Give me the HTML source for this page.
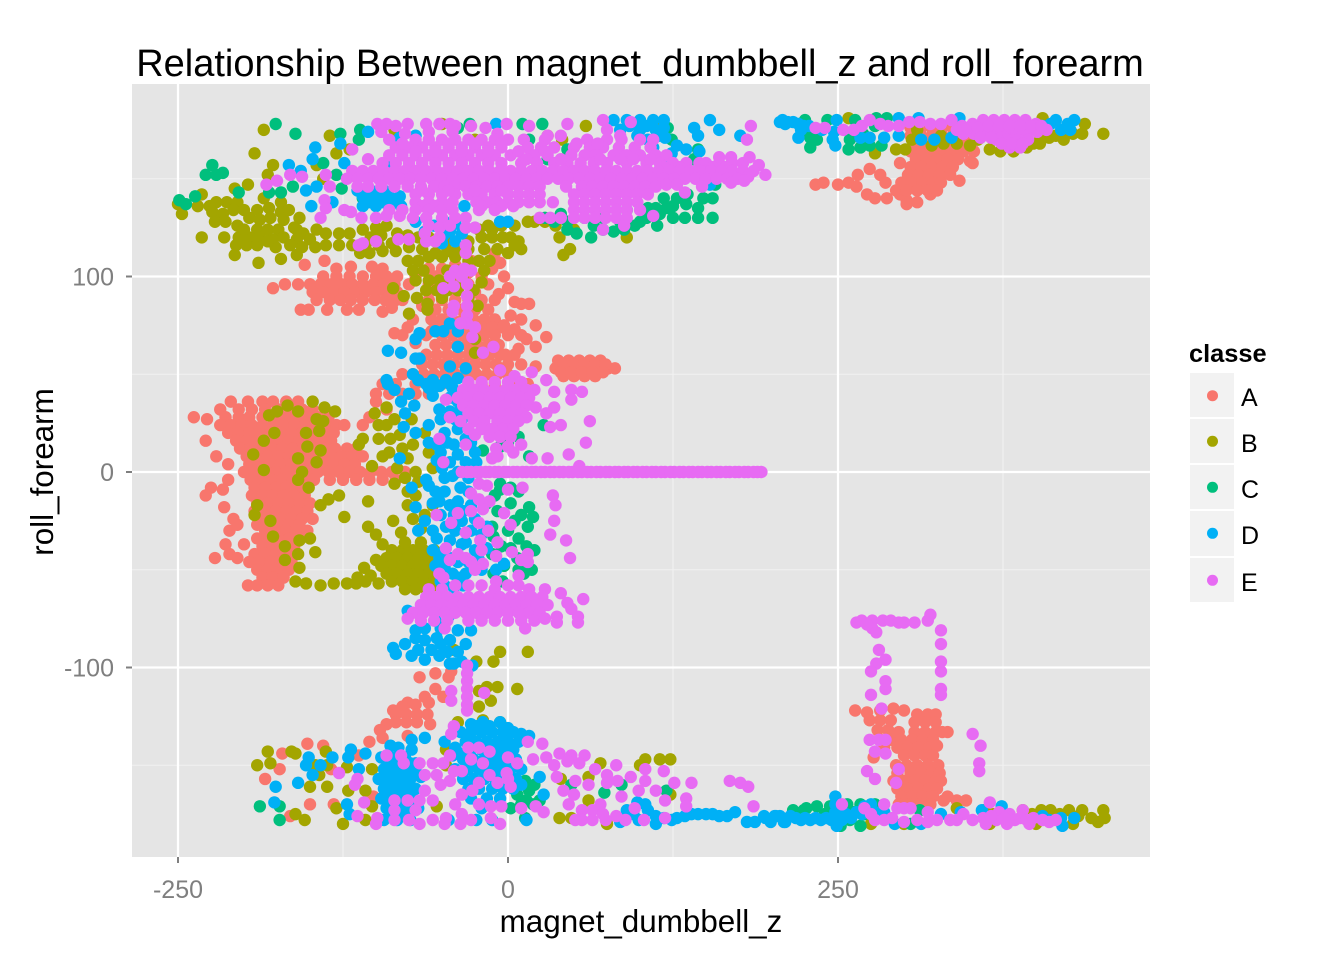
<!DOCTYPE html>
<html>
<head>
<meta charset="utf-8">
<title>Relationship Between magnet_dumbbell_z and roll_forearm</title>
<style>
html,body{margin:0;padding:0;background:#fff}
svg{display:block}
text{font-family:"Liberation Sans",sans-serif}
</style>
</head>
<body>
<svg id="chart" width="1344" height="960" viewBox="0 0 1344 960" xmlns="http://www.w3.org/2000/svg">
<rect width="1344" height="960" fill="#fff"/>
<rect x="132" y="84" width="1018" height="773" fill="#e5e5e5"/>
<g id="grid"></g>
<g id="marks"></g>
<g id="axes"></g>
<text x="640" y="76" font-size="38" text-anchor="middle" fill="#000">Relationship Between magnet_dumbbell_z and roll_forearm</text>
<text x="641" y="932" font-size="31.4" text-anchor="middle" fill="#000">magnet_dumbbell_z</text>
<text transform="translate(53,472) rotate(-90)" font-size="31.4" text-anchor="middle" fill="#000">roll_forearm</text>
<g>
<text x="1189" y="362" font-size="25.4" font-weight="bold" fill="#000">classe</text>
<g><rect x="1190" y="373" width="44" height="44" fill="#f2f2f2"/><circle cx="1212.5" cy="395.7" r="5.5" fill="#F8766D"/><text x="1241" y="406" font-size="25">A</text></g>
<g><rect x="1190" y="419" width="44" height="44" fill="#f2f2f2"/><circle cx="1212.5" cy="441.3" r="5.5" fill="#A3A500"/><text x="1241" y="452" font-size="25">B</text></g>
<g><rect x="1190" y="465" width="44" height="44" fill="#f2f2f2"/><circle cx="1212.5" cy="487.3" r="5.5" fill="#00BF7D"/><text x="1241" y="498" font-size="25">C</text></g>
<g><rect x="1190" y="511" width="44" height="45" fill="#f2f2f2"/><circle cx="1212.5" cy="533.3" r="5.5" fill="#00B0F6"/><text x="1241" y="544" font-size="25">D</text></g>
<g><rect x="1190" y="558" width="44" height="44" fill="#f2f2f2"/><circle cx="1212.5" cy="580.3" r="5.5" fill="#E76BF3"/><text x="1241" y="591" font-size="25">E</text></g>
</g>
</svg>
<script>
const xTickLabels = [-250, 0, 250];
const xMinorBreaks = [-125, 125, 375];
const yTickLabels = [-100, 0, 100];
const yMinorBreaks = [-150, -50, 50, 150];
const classNames = ["A", "B", "C", "D", "E"];
const classColors = ["#F8766D", "#A3A500", "#00BF7D", "#00B0F6", "#E76BF3"];

/* each point: [magnet_dumbbell_z, roll_forearm] */
const seriesA = [
[-210,36],[-197,36],[-186,36],[-178,36],[-168,36],[-159,36],
[-218,32],[-204,32],[-194,32],[-184,32],[-174,32],[-165,32],[-156,32],[-148,32],
[-238,28],[-228,27],[-214,28],[-204,28],[-196,28],[-186,28],[-176,28],[-168,28],[-160,28],[-152,28],[-144,28],[-136,28],
[-218,24],[-210,24],[-202,24],[-194,24],[-186,24],[-178,24],[-170,24],[-162,24],[-154,24],[-146,24],[-138,24],[-130,24],[-124,24],
[-212,20],[-204,20],[-196,20],[-188,20],[-180,20],[-172,20],[-164,20],[-156,20],[-148,20],[-140,20],[-132,20],
[-229,16],[-206,16],[-198,16],[-190,16],[-182,16],[-174,16],[-166,16],[-158,16],[-150,16],[-142,16],[-134,16],
[-203,12],[-195,12],[-187,12],[-179,12],[-171,12],[-163,12],[-155,12],[-147,12],[-139,12],[-131,12],[-122,12],[-115,12],
[-221,8],[-198,8],[-190,8],[-182,8],[-174,8],[-166,8],[-158,8],[-150,8],[-142,8],[-134,8],[-126,8],[-118,8],[-110,8],
[-212,4],[-196,4],[-188,4],[-180,4],[-172,4],[-164,4],[-156,4],[-148,4],[-140,4],[-132,4],[-124,4],[-116,4],
[-200,0],[-192,0],[-184,0],[-176,0],[-168,0],[-160,0],[-152,0],[-144,0],[-136,0],[-128,0],[-120,0],[-112,0],[-104,0],[-96,0],[-88,0],[-78,0],
[-212,-4],[-195,-4],[-187,-4],[-179,-4],[-171,-4],[-163,-4],[-155,-4],[-147,-4],[-135,-4],[-125,-4],[-115,-4],[-105,-4],[-95,-4],[-85,-4],
[-225,-8],[-216,-9],[-192,-8],[-184,-8],[-176,-8],[-168,-8],[-160,-8],[-152,-8],
[-229,-12],[-194,-12],[-186,-12],[-178,-12],[-170,-12],[-162,-12],[-154,-12],
[-190,-16],[-182,-16],[-174,-16],[-166,-16],[-158,-16],[-150,-16],[-215,-18],
[-192,-20],[-184,-20],[-176,-20],[-168,-20],[-160,-20],[-152,-20],
[-208,-24],[-188,-24],[-180,-24],[-172,-24],[-164,-24],[-156,-24],[-148,-24],
[-205,-27],[-190,-27],[-182,-27],[-174,-27],[-166,-27],[-158,-27],
[-211,-30],[-184,-30],[-176,-30],[-168,-30],[-160,-30],[-152,-30],
[-190,-34],[-182,-34],[-174,-34],[-166,-34],[-158,-34],
[-214,-37],[-200,-37],[-186,-38],[-178,-38],[-170,-38],[-162,-38],
[-211,-42],[-192,-42],[-184,-42],[-176,-42],[-168,-42],[-222,-44],[-205,-44],
[-196,-46],[-188,-46],[-180,-46],[-172,-46],[-164,-46],
[-190,-50],[-182,-50],[-174,-50],[-166,-50],
[-186,-54],[-178,-54],[-170,-54],
[-197,-58],[-190,-58],[-182,-58],[-174,-58],
[-10,112],[-154,106],[-139,108],[-6,107],
[-130,104],[-119,105],[-103,105],[-95,104],[-60,104],[-50,104],
[-140,100],[-130,100],[-120,100],[-110,100],[-100,100],[-92,100],[-84,100],[-70,100],[-55,100],[-40,100],[-20,100],[-3,100],
[-169,96],[-159,96],[-150,96],[-142,96],[-134,96],[-126,96],[-118,96],[-110,96],[-102,96],[-94,96],[-86,96],[-75,96],[-60,96],[-45,96],[-30,96],[-15,96],
[-178,94],[-148,92],[-140,92],[-132,92],[-124,92],[-116,92],[-108,92],[-100,92],[-92,92],[-84,92],[-60,92],[-50,92],[-40,92],[-25,92],[-7,91],[0,94],
[-145,88],[-135,88],[-127,88],[-119,88],[-110,88],[-101,88],[-93,88],[-85,88],[-60,88],[-50,88],[-40,88],[-30,88],[-20,88],[-10,88],[5,87],
[-157,83],[-151,83],[-137,83],[-122,83],[-113,83],[-95,82],[-88,84],[-55,83],[-45,83],[-35,83],[-25,83],[-15,83],[16,86],[10,86],
[-58,78],[-50,78],[-42,78],[-34,78],[-26,78],[-18,78],[-10,78],[2,80],[10,78],
[-76,74],[-86,71],[-52,74],[-44,74],[-36,74],[-28,74],[-20,74],[-12,74],[-4,74],[21,75],
[-80,70],[-50,70],[-42,70],[-34,70],[-26,70],[-18,70],[-10,70],[0,70],[10,70],[29,69],
[-55,65],[-47,65],[-39,65],[-31,65],[-23,65],[-15,65],[-7,65],[8,63],[21,64],
[-62,60],[-54,60],[-46,60],[-38,60],[-30,60],[-22,60],[-14,60],[-6,60],[5,60],
[-65,55],[-57,55],[-49,55],[-41,55],[-33,55],[-25,55],[-17,55],[-9,55],[0,55],[10,55],[21,54],
[-80,50],[-72,50],[-64,50],[-56,50],[-48,50],[-40,50],[-32,50],[-24,50],[-16,50],[-8,50],[0,50],
[-95,45],[-85,45],[-70,45],[-60,45],[-50,45],[-30,45],[-20,45],[-10,45],[5,45],[15,45],
[-100,40],[-90,40],[-80,40],[-70,40],[-60,40],[-40,40],[-30,40],[-10,40],[0,40],
[-100,36],[-92,32],[-110,24],[-105,28],
[-12,104],[-28,108],[-40,106],[-30,102],[-65,85],[-72,78],[-70,66],[-62,70],[-58,72],[-2,60],[-3,75],[5,73],[14,68],[-90,90],[-80,88],
[38,57],[46,57],[54,57],[62,57],[70,57],[36,53],[44,53],[52,53],[60,53],[68,53],[76,53],[81,53],[42,49],[50,49],[58,49],[66,49],[42,55],[50,55],[58,55],[66,55],[74,55],[40,51],[48,51],[56,51],[64,51],[72,51],
[-67,-105],[-55,-103],[-45,-105],[-43,-102],[-55,-111],[-49,-115],[-63,-115],[-76,-118],[-87,-122],[-80,-120],[-70,-119],[-60,-118],
[-85,-124],[-77,-124],[-69,-124],[-61,-124],[-85,-128],[-77,-128],[-69,-128],[-59,-129],[-92,-129],[-97,-132],[-95,-136],[-76,-135],[-105,-138],
[-152,-139],[-140,-140],[-171,-144],[-173,-152],[-184,-157],[-150,-170],[-132,-170],[-165,-176],[-134,-152],[-113,-145],[-102,-166],[-79,-160],
[233,147],[239,148],[250,147],[258,148],[265,152],[274,155],[282,152],[286,148],[264,146],[272,142],[278,140],[287,140],[297,142],[302,139],[302,137],[310,138],[320,142],[297,158],[342,149],[335,154],[352,158],
[305,176],[313,176],[321,176],[329,176],[337,176],[345,176],[353,176],
[305,172],[313,172],[321,172],[329,172],[337,172],[345,172],[353,172],
[309,168],[317,168],[325,168],[333,168],[341,168],[349,168],
[305,164],[313,164],[321,164],[329,164],[337,164],[345,164],[353,164],
[309,160],[317,160],[325,160],[333,160],[341,160],[350,159],
[305,156],[313,156],[321,156],[329,156],[337,156],
[303,152],[311,152],[319,152],[327,152],[335,152],
[298,148],[306,148],[314,148],[322,148],[328,148],
[294,144],[302,144],[310,144],[318,144],[325,144],
[263,-122],[272,-123],[282,-122],[292,-121],[300,-122],[310,-124],[318,-124],[324,-124],
[274,-127],[282,-127],[290,-127],[308,-128],[316,-128],[324,-128],
[280,-132],[288,-132],[296,-133],[308,-133],[316,-133],[324,-133],[329,-133],[333,-133],
[282,-137],[290,-137],[298,-137],[306,-137],[314,-137],[322,-137],
[285,-141],[295,-141],[303,-141],[311,-141],[319,-141],[325,-140],[277,-146],
[300,-145],[308,-145],[316,-145],[322,-145],
[294,-150],[302,-150],[310,-150],[318,-150],[326,-150],
[295,-154],[305,-154],[313,-154],[321,-154],[327,-154],
[292,-158],[300,-158],[308,-158],[316,-158],[324,-158],[328,-158],
[295,-162],[303,-162],[311,-162],[319,-162],[325,-162],
[298,-166],[306,-166],[314,-166],[322,-166],[330,-168],[340,-168],[347,-168],[333,-166],
[296,-170],[304,-170],[312,-170],[320,-170]
];
const seriesB = [
[-185,175],[-192,163],[-178,157],[-182,152],[-197,147],[-207,145],[-250,137],[-247,132],[-235,136],[-232,142],[-226,136],[-130,163],[-145,157],[-140,150],
[-221,138],[-213,138],[-205,138],[-185,140],[-172,138],[-224,133],[-216,132],[-208,134],[-190,134],[-181,135],[-172,133],
[-222,128],[-214,128],[-196,130],[-188,129],[-180,130],[-170,129],[-158,130],[-205,126],[-190,124],[-182,124],[-174,124],[-162,125],[-155,122],[-145,124],
[-232,120],[-215,120],[-204,120],[-196,120],[-188,120],[-178,119],[-170,120],[-160,119],[-150,119],[-128,122],[-120,122],[-110,124],[-100,125],[-92,126],
[-206,116],[-198,116],[-190,116],[-176,115],[-165,116],[-156,115],[-146,115],[-138,116],[-128,116],[-118,116],[-108,116],[-98,116],[-88,117],
[-207,111],[-189,107],[-172,109],[-160,111],[-112,112],[-105,112],[-95,113],[-85,113],[-75,115],[-65,114],[-55,118],[-45,118],[-20,120],[-12,120],[-4,120],[8,118],[10,114],
[-200,124],[-182,118],[-160,124],[-200,134],[-166,134],[-138,122],[-104,120],[-96,121],[-84,122],[-76,121],[-68,120],[-30,118],[-38,114],[-30,114],[-22,124],[-12,124],[-46,113],[-55,112],[-60,120],
[-15,126],[-5,126],[5,126],[-18,114],[-8,114],[0,112],[2,120],[5,116],[15,128],
[-76,108],[-68,108],[-60,110],[-50,110],[-40,110],[-30,108],[-22,108],[-14,108],
[-72,103],[-64,103],[-46,103],[-38,103],[-28,103],[-18,103],
[-70,98],[-60,98],[-52,98],[-44,98],[-34,98],[-20,97],
[-87,94],[-62,93],[-54,93],[-46,93],[-38,93],[-26,93],[-79,90],[-69,89],[-50,89],[-30,89],[-61,86],[-61,83],[-75,81],[-23,85],[-25,61],[-25,68],
[-86,175],[59,177],[-50,178],[-25,170],[30,172],[41,170],[100,179],[112,178],[-135,172],[-120,165],
[20,128],[28,128],[36,126],[42,111],[47,114],[39,120],[90,120],[50,124],
[-181,29],[-175,31],[-167,34],[-159,31],[-148,36],[-139,33],[-131,31],[-145,27],[-140,26],[-153,20],[-143,21],[-177,20],[-185,16],[-152,13],[-142,11],[-193,9],[-159,7],[-145,5],[-185,1],[-156,0],[-113,14],[-110,17],
[-159,-4],[-151,-8],[-190,-17],[-192,-22],[-180,-25],[-178,-33],[-169,-38],[-158,-35],[-150,-34],[-146,-41],[-159,-42],[-169,-45],[-158,-49],[-161,-56],[-153,-57],[-142,-58],[-132,-57],[-122,-57],[-114,-54],[-109,-49],[-98,-57],[-100,-45],
[-136,-14],[-128,-12],[-142,-17],[-124,-23],[-106,-15],[-87,-25],[-106,-28],[-100,-32],[-81,-31],[-95,-37],
[-88,-40],[-80,-40],[-72,-40],[-64,-40],[-56,-40],[-92,-44],[-84,-44],[-76,-44],[-68,-44],[-60,-44],
[-96,-48],[-88,-48],[-80,-48],[-72,-48],[-64,-48],[-56,-48],[-92,-52],[-84,-52],[-76,-52],[-68,-52],[-60,-52],
[-104,-53],[-88,-56],[-80,-56],[-72,-56],[-64,-56],[-56,-56],[-78,-60],[-70,-60],[-62,-60],[-54,-58],
[-86,-6],[-76,-10],[-76,-17],[-63,-22],[-66,-29],[-57,-17],[-78,-3],[-68,-5],[-70,-12],[-72,-24],[-78,-36],[-66,-36],[-115,-57],[-108,-56],
[-101,30],[-98,24],[-98,17],[-92,33],[-86,27],[-89,17],[-95,8],[-82,19],[-73,27],[-63,20],[-60,10],[-57,2],[-103,3],[-76,7],[-70,0],[-84,2],[-92,24],[-80,12],[-90,10],[-72,14],
[-182,-143],[-190,-150],[-180,-149],[-164,-143],[-161,-144],[-138,-143],[-146,-150],[-137,-150],[-143,-155],[-150,-161],[-137,-161],[-130,-172],[-161,-175],[-154,-178],[-125,-180],[-121,-163],[-108,-163],[-103,-171],[-108,-178],[-103,-152],[-122,-151],
[-38,-128],[-19,-127],[-6,-128],[-47,-142],[-47,-150],[-54,-171],[104,-147],[123,-147],[115,-147],[100,-150],[70,-149],[61,-156],[40,-157],[39,-177],[48,-177],[61,-168],[75,-180],[123,-165],
[-6,-92],[-11,-97],[15,-92],[7,-111],[-16,-110],[-8,-110],[-22,-112],[-13,-117],[-22,-120],[-41,-91],[-24,-97],
[451,173],[435,173],[437,178],[421,170],[403,168],[393,166],[383,164],[373,164],[365,165],[350,167],[340,168],[330,168],[321,167],[306,170],[294,165],[301,165],[278,163],[405,181],[410,171],[310,175],[328,172],[356,170],[404,171],[258,181],[415,172],[428,173],[398,168],
[451,-173],[452,-177],[447,-179],[442,-177],[435,-173],[425,-173],[411,-173],[404,-173],[390,-173],[368,-175],[361,-173],[340,-172],[400,-180],[428,-180],[365,-180],[275,-180],[300,-180],[418,-175],[432,-176],[397,-175]
];
const seriesC = [
[-176,178],[-161,173],[-224,157],[-229,152],[-221,152],[-216,153],[-249,139],[-244,137],[-237,141],[-204,143],[-127,173],[-140,158],[-130,152],[-126,145],[-112,175],[-113,170],[-172,143],[-181,143],[-163,146],[-110,140],
[-29,178],[11,178],[26,178],[16,170],[45,165],[-38,176],[30,160],
[155,130],[144,130],[134,130],[125,130],[115,132],[105,130],[144,135],[125,136],[135,137],[45,124],[63,120],[80,123],[96,126],[45,128],[65,126],[106,135],[118,140],[157,147],[141,160],[144,165],[121,176],[124,170],[85,128],[58,130],[72,130],[113,126],[90,134],
[35,128],[72,124],[88,124],[52,122],[100,128],[120,135],[128,140],[112,135],[136,142],[148,140],[155,140],[40,132],[28,130],
[16,8],[27,24],[11,28],[0,15],[-6,13],[-19,11],[8,18],
[16,-18],[10,-22],[19,-23],[15,-28],[8,-34],[2,-16],[-6,-9],[2,-39],[7,-44],[18,-50],[-11,-52],[-12,-28],[-6,-6],[-11,-33],[8,-10],[-3,-48],[8,-50],[14,-38],[-8,-20],[-16,-16],
[0,-30],[14,-46],[5,-25],[-5,-38],[20,-40],[12,-52],[-4,-56],[-12,-42],[2,-8],[-10,-12],
[-188,-171],[-173,-171],[-173,-178],[16,-163],[13,-158],[7,-165],[19,-170],[2,-172],[48,-160],[73,-164],[120,-163],[86,-160],[13,-177],[5,-160],[10,-170],[20,-160],[24,-168],[14,-168],
[216,-173],[224,-173],[234,-171],[244,-171],[257,-170],[267,-170],[278,-170],[259,-178],[252,-181],[267,-181],[312,-173],[305,-180],[240,-175],[270,-175],[226,-172],[262,-174],
[225,180],[229,171],[226,174],[234,170],[229,166],[242,180],[259,170],[258,165],[267,166],[274,167],[283,167],[278,177],[263,180],[279,181],[287,181],[269,173],[263,174],[232,174]
];
const seriesD = [
[-146,166],[-127,168],[-148,160],[-166,157],[-124,158],[-157,154],[-153,144],[-145,146],[-149,136],[-133,138],[-106,174],
[-110,141],[-100,141],[-90,141],[-82,141],[-110,136],[-100,136],[-90,136],[-81,136],[-105,138],[-95,138],[-86,138],[-114,144],[-104,144],[-94,144],
[206,179],[210,178],[141,176],[153,180],[160,175],[144,172],[176,172],[153,147],
[80,180],[90,180],[100,180],[110,180],[118,180],[85,175],[100,175],[112,175],[118,176],[106,170],[119,171],[128,167],[145,164],[90,160],[-70,172],[-82,171],[-9,178],[-25,167],
[92,177],[105,177],[114,172],[124,163],[98,172],[135,165],[110,166],[120,160],
[0,128],[-6,128],[-70,128],[-63,123],[-44,123],[-35,122],[-49,121],[-33,136],[-32,125],[-92,158],[-40,127],[-56,126],[-48,128],[-40,118],[-50,117],
[-55,72],[-49,72],[-44,76],[-38,72],[-67,71],[-70,68],[-38,64],[-91,62],[-81,61],[-70,58],[-67,58],[-44,54],[-32,53],[-72,50],[-92,47],[-91,45],[-86,42],[-68,47],[-57,47],[-47,47],[-38,48],[-81,36],[-75,40],[-71,34],[-60,43],[-57,39],[-44,45],[-62,45],[-52,44],[-42,43],
[-78,30],[-79,23],[-70,20],[-60,24],[-51,27],[-38,36],[-44,31],[-35,27],[-38,22],[-48,20],[-32,17],[-41,14],[-25,10],[-51,10],[-44,5],[-32,5],[-82,7],[-40,27],[-52,32],[-60,15],[-50,2],[-38,0],
[-44,38],[-36,32],[-54,14],[-46,15],[-38,9],[-28,15],[-54,6],[-42,-2],[-30,-3],[-24,5],
[-62,-4],[-73,-8],[-60,-7],[-70,-18],[-57,-16],[-48,-3],[-48,-10],[-38,-15],[-41,-22],[-51,-22],[-63,-25],[-68,-30],[-57,-30],[-47,-28],[-35,-25],[-28,-30],[-44,-35],[-57,-40],[-35,-37],[-48,-40],[-16,-39],[-38,-46],[-48,-49],[-32,-52],[-3,-47],[-9,-50],[-51,-56],[-41,-59],[-25,-40],[-25,-24],[-30,-10],[-42,-52],[-55,-10],[-55,-48],
[-52,-15],[-44,-17],[-36,-8],[-28,-17],[-34,-20],[-54,-34],[-40,-30],[-32,-36],[-52,-44],[-44,-44],[-30,-46],[-22,-45],[-38,-54],[-48,-58],[-34,-58],[-20,-50],[-16,-28],[-20,-32],
[-76,-71],[-70,-81],[-63,-80],[-51,-80],[-38,-81],[-28,-81],[-63,-86],[-54,-85],[-44,-86],[-32,-88],[-87,-90],[-78,-88],[-85,-93],[-73,-94],[-63,-96],[-52,-94],[-44,-98],[-35,-97],[-27,-99],[-70,-85],[-51,-88],[-41,-98],[-55,-76],[-45,-74],[-58,-91],[-68,-91],[-46,-92],[-38,-92],
[-28,-129],[-19,-128],[-6,-128],[0,-131],[16,-135],
[-36,-133],[-28,-133],[-20,-133],[-12,-133],[-4,-133],[4,-133],[10,-134],
[-32,-138],[-24,-138],[-16,-138],[-8,-138],[0,-138],[8,-138],
[-48,-138],[-40,-141],[-28,-142],[-20,-142],[-12,-142],[-4,-142],[4,-142],
[-34,-147],[-26,-147],[-18,-147],[-10,-147],[-2,-147],[6,-147],[-40,-152],[-30,-152],[-22,-152],[-14,-152],[-6,-152],[2,-152],[10,-152],
[-34,-157],[-26,-157],[-18,-157],[-10,-157],[-2,-157],[6,-157],[10,-160],[-30,-162],[-22,-162],[-12,-162],[-4,-162],[4,-162],[-28,-167],[-16,-167],[-6,-167],[-20,-172],
[-24,-130],[-14,-130],[-2,-135],[-30,-136],[-42,-145],[-36,-144],[-16,-144],[-8,-145],[0,-144],[-24,-149],[-14,-149],[-6,-149],[2,-149],
[-63,-136],[-89,-140],[-83,-141],[-73,-137],[-73,-142],[-70,-149],[-89,-149],[-108,-144],[-119,-142],[-121,-146],[-133,-146],[-151,-146],[-153,-150],[-142,-150],[-148,-155],[-159,-159],[-176,-161],[-177,-169],[-113,-152],[-122,-170],[-120,-175],
[-96,-146],[-88,-146],[-78,-146],[-94,-152],[-86,-152],[-78,-152],[-70,-153],[-98,-157],[-90,-157],[-82,-157],[-74,-157],[-66,-156],[-94,-162],[-86,-162],[-78,-162],[-70,-162],[-96,-167],[-88,-167],[-80,-167],[-72,-167],[-92,-172],[-84,-172],[-76,-172],[-68,-172],[-94,-178],[-84,-178],[-74,-178],[-45,-178],[-24,-178],[-12,-178],
[-90,-149],[-82,-149],[-74,-149],[-92,-154],[-84,-155],[-76,-155],[-92,-160],[-84,-160],[-76,-160],[-92,-165],[-84,-165],[-76,-165],[-88,-170],[-80,-170],[-72,-170],[-88,-175],[-80,-175],
[24,-156],[27,-165],[14,-178],[98,-169],[90,-173],[106,-173],[112,-176],[85,-179],[124,-178],[134,-176],[144,-175],[155,-175],[166,-176],[172,-174],[181,-179],[187,-179],[194,-176],[202,-176],[209,-179],[99,-178],[112,-180],[95,-175],[104,-170],[118,-177],[128,-177],[139,-175],[150,-175],[160,-176],
[195,-177],[203,-176],[210,-179],[218,-177],[225,-177],[233,-177],[241,-177],[250,-176],[248,-170],[249,-181],[256,-175],[264,-174],[270,-171],[275,-170],[285,-174],[293,-180],[313,-180],[328,-175],[343,-174],[359,-173],[374,-171],[419,-177],[429,-177],[420,-181],[410,-178],[405,-176],
[199,-179],[206,-176],[214,-176],[222,-178],[229,-178],[237,-178],[245,-178],[253,-178],[260,-177],[268,-175],[278,-174],[248,-174],[248,-166],
[208,180],[216,179],[224,177],[220,171],[238,175],[246,170],[248,167],[249,180],[267,171],[274,171],[285,171],[296,172],[313,170],[323,170],[336,171],[296,181],[311,181],[342,181],[411,178],[419,175],[429,180],[424,178],[426,175],[415,180],[405,177],[212,179],[220,178],[228,177],[222,175],[247,174]
];
const seriesE = [
[-183,147],[-175,149],[-165,152],[-156,151],[-138,152],[-135,146],[-139,139],[-138,135],[-142,130],[-124,134],[-119,133],[-111,130],[-118,165],[-106,160],
[-99,178],[-92,178],[-85,177],[-76,178],[-62,178],[-52,178],[-44,178],[-40,177],[-28,177],[-17,176],[-1,178],[16,177],[45,178],[72,180],[93,179],[75,175],[86,170],[110,170],[184,177],[181,170],
[-96,174],[-78,173],[-60,174],[-42,174],[-8,173],[30,172],[40,172],
[-90,170],[-70,170],[-60,170],[-50,170],[-40,170],[-30,170],[-20,170],[-10,170],[0,170],[12,170],[28,170],[60,170],[75,170],[85,172],[100,170],
[-85,166],[-75,166],[-65,166],[-55,166],[-45,166],[-35,166],[-25,166],[-15,166],[-5,166],[15,166],[25,166],[35,166],[50,166],[62,166],[72,166],[84,166],[96,166],[108,166],
[-90,162],[-80,162],[-70,162],[-60,162],[-50,162],[-40,162],[-30,162],[-20,162],[-10,162],[2,162],[20,162],[30,162],[48,162],[58,162],[66,162],[80,162],[90,162],[100,162],[112,162],[120,162],[160,161],[169,161],[183,161],
[-95,158],[-85,158],[-75,158],[-65,158],[-55,158],[-45,158],[-35,158],[-25,158],[-15,158],[-5,158],[10,158],[22,158],[35,158],[45,158],[55,158],[65,158],[75,158],[90,158],[105,158],[115,158],[125,158],[135,158],[145,158],[150,158],[160,158],[170,158],[178,158],[190,157],
[-80,168],[-70,164],[-55,164],[-45,168],[-35,164],[-25,168],[-15,164],[-5,168],[8,164],[14,160],[28,164],[40,160],[52,168],[68,168],[70,160],[85,160],[95,160],[108,160],[118,156],[130,156],[155,156],[165,156],
[-118,154],[-110,154],[-102,154],[-94,154],[-86,154],[-78,154],[-70,154],[-62,154],[-54,154],[-46,154],[-38,154],[-30,154],[-22,154],[-14,154],[-6,154],[2,154],[10,154],[18,154],[26,154],[34,154],[42,154],[50,154],[58,154],[66,154],[74,154],[82,154],[90,154],[98,154],[106,154],[114,154],[122,154],[130,154],[138,154],[146,154],[154,154],[162,154],[170,154],[178,154],[186,154],[195,152],
[-122,150],[-114,150],[-106,150],[-98,150],[-90,150],[-82,150],[-74,150],[-66,150],[-58,150],[-50,150],[-42,150],[-34,150],[-26,150],[-18,150],[-10,150],[-2,150],[6,150],[14,150],[22,150],[30,150],[38,150],[46,150],[54,150],[62,150],[70,150],[78,150],[86,150],[94,150],[102,150],[110,150],[118,150],[126,150],[134,150],[142,150],[150,150],[158,150],[166,150],[174,150],[182,151],
[-114,146],[-106,146],[-96,146],[-86,146],[-76,146],[-66,146],[-56,146],[-48,146],[-40,146],[-32,146],[-24,146],[-16,146],[-8,146],[0,146],[8,146],[16,146],[24,146],[44,146],[56,146],[64,146],[72,146],[80,146],[88,146],[96,146],[104,146],[112,146],[147,146],[169,148],[179,149],[134,143],[120,147],[128,147],
[-70,142],[-60,142],[-50,142],[-40,142],[-30,142],[-20,142],[-10,142],[0,142],[8,142],[16,142],[24,142],[50,142],[58,142],[66,142],[74,142],[82,142],[90,142],[98,142],[106,142],[-65,144],[-45,144],[-25,144],[-5,144],
[-70,138],[-60,138],[-50,138],[-42,138],[-24,138],[-16,138],[-8,138],[0,138],[8,138],[16,138],[24,138],[34,138],[50,138],[58,138],[66,138],[74,138],[82,138],[90,138],[98,138],[-65,136],[-55,136],[-45,136],[-20,136],[-5,136],[4,136],
[-90,134],[-80,134],[-70,134],[-60,134],[-50,134],[-42,134],[-22,134],[-10,134],[50,134],[58,134],[66,134],[74,134],[82,134],[90,134],[100,134],
[-100,130],[-92,131],[-82,131],[-72,130],[-62,130],[-50,130],[-40,130],[-32,130],[24,130],[32,130],[40,130],[50,130],[58,130],[66,130],[74,130],[82,130],[90,130],[110,131],
[-52,125],[-44,126],[-32,125],[-25,125],[-60,126],[88,126],[72,124],[-63,122],[-52,120],[-83,119],[-75,119],[-113,116],[-110,117],[-100,118],[-62,118],[-32,116],[-32,112],[-55,118],
[-40,103],[-44,100],[-28,103],[-33,104],[-35,100],[-49,94],[-41,95],[-31,96],[-31,90],[-31,85],[-31,80],[-31,76],[-41,85],[-36,76],[-25,74],[-27,69],[-19,61],[-11,64],[-42,82],
[-6,52],[5,49],[18,51],[29,47],[35,41],[48,42],[56,41],[48,37],[20,42],[21,33],[35,33],[29,30],[40,24],[32,23],[62,26],[59,15],[46,9],[18,7],[30,7],[54,3],[4,10],[-9,12],[-12,7],[-44,28],[-47,37],[-52,17],[-25,19],[-32,14],[-49,5],[10,14],
[-30,46],[-20,46],[-10,46],[0,46],[10,46],[-34,42],[-26,42],[-18,42],[-10,42],[-2,42],[6,42],[14,42],
[-38,38],[-30,38],[-22,38],[-14,38],[-6,38],[2,38],[10,38],[16,38],
[-34,34],[-26,34],[-18,34],[-10,34],[-2,34],[6,34],[14,34],
[-30,30],[-22,30],[-14,30],[-6,30],[2,30],[10,30],[14,28],
[-36,26],[-26,26],[-18,26],[-8,26],[0,26],[8,26],
[-30,22],[-20,22],[-12,22],[-4,22],[4,22],[-14,18],[-6,18],[2,18],[-8,8],[0,13],
[-35,0],[-28,0],[-21,0],[-14,0],[-7,0],[0,0],[7,0],[14,0],[21,0],[28,0],[35,0],[42,0],[49,0],[56,0],[63,0],[70,0],[77,0],[84,0],[91,0],[98,0],[105,0],[112,0],[119,0],[126,0],[133,0],[140,0],[147,0],[154,0],[161,0],[168,0],[175,0],[182,0],[189,0],[192,0],
[-31,0],[-24,0],[-17,0],[-10,0],[-3,0],[4,0],[11,0],[18,0],[25,0],[32,0],[39,0],[46,0],[53,0],[60,0],[67,0],[74,0],[81,0],[88,0],[95,0],[102,0],[109,0],[116,0],[123,0],[130,0],[137,0],[144,0],[151,0],[158,0],[165,0],[172,0],[179,0],[186,0],
[34,-12],[36,-17],[35,-25],[32,-32],[44,-35],[47,-44],[-16,-7],[0,-9],[11,-8],[-28,-11],[-14,-15],[-19,-19],[-28,-20],[-38,-21],[-43,-26],[-54,-22],[-3,-21],[2,-27],[-22,-26],[-32,-31],[-21,-35],[-8,-36],[-47,-39],[-38,-42],[-44,-45],[-28,-46],[-9,-43],[-19,-47],[3,-41],[15,-42],[10,-45],[15,-46],[-52,-52],[-49,-54],[-25,-50],[8,-53],[-9,-56],[-22,-14],[-22,-6],[-20,-40],[-32,-44],[-15,-30],
[-60,-60],[-50,-60],[-40,-58],[-30,-58],[-20,-58],[-10,-60],[0,-58],[8,-58],[16,-60],[28,-60],
[-62,-64],[-54,-64],[-46,-64],[-38,-64],[-30,-64],[-22,-64],[-14,-64],[-6,-64],[2,-64],[10,-64],[18,-64],[26,-64],[40,-62],[57,-65],
[-66,-68],[-58,-68],[-50,-68],[-42,-68],[-34,-68],[-26,-68],[-18,-68],[-10,-68],[-2,-68],[6,-68],[14,-68],[22,-68],[30,-68],[45,-67],
[-72,-72],[-64,-72],[-56,-72],[-48,-72],[-40,-72],[-32,-72],[-24,-72],[-16,-72],[-8,-72],[0,-72],[8,-72],[16,-72],[24,-72],[48,-70],
[-76,-75],[-66,-76],[-56,-76],[-46,-76],[-30,-76],[-20,-76],[-10,-76],[0,-76],[10,-76],[20,-76],[28,-75],[37,-74],[37,-77],[53,-74],[53,-77],[-48,-80],[13,-80],
[-31,-99],[-31,-103],[-31,-107],[-31,-111],[-31,-115],[-31,-119],[-31,-122],[-43,-112],[-43,-117],[-18,-113],
[-41,-130],[-43,-134],[15,-138],[26,-139],[19,-147],[29,-146],[39,-144],[48,-145],[58,-145],[35,-150],[45,-148],[54,-149],[66,-152],[37,-156],[51,-158],[61,-160],[42,-163],[50,-165],[46,-170],[64,-173],[56,-173],[70,-170],[86,-166],[82,-150],[75,-155],[75,-159],[83,-158],[93,-156],[104,-152],[104,-158],[118,-153],[126,-159],[139,-159],[99,-163],[112,-163],[119,-168],[135,-167],[135,-171],[168,-158],[176,-159],[182,-161],[186,-171],[96,-172],[89,-178],[103,-178],[119,-177],[82,-176],[56,-178],[64,-178],[72,-175],[74,-178],[51,-178],
[-92,-145],[-79,-149],[-81,-145],[-67,-149],[-57,-149],[-49,-149],[-63,-155],[-54,-155],[-44,-145],[-41,-153],[-30,-141],[-22,-141],[-14,-143],[-28,-147],[-19,-149],[-35,-153],[0,-146],[7,-149],[-1,-154],[-14,-155],[-8,-159],[0,-157],[2,-161],[-22,-159],[-27,-163],[-35,-165],[-44,-158],[-51,-160],[-63,-163],[-67,-168],[-57,-168],[-76,-168],[-86,-168],[-114,-157],[-116,-160],[-128,-154],[-109,-169],[-114,-176],[-99,-177],[-100,-180],[-86,-173],[-86,-178],[-70,-173],[-75,-178],[-67,-180],[-57,-178],[-47,-177],[-40,-170],[-35,-175],[-28,-178],[-22,-170],[-13,-171],[-5,-171],[-13,-177],[-6,-180],[10,-172],[21,-171],[27,-174],[-36,-180],[-48,-180],
[264,-77],[268,-76],[276,-76],[284,-76],[290,-76],[296,-77],[308,-77],[318,-76],[320,-73],[328,-81],[276,-80],[279,-82],[300,-77],[272,-78],
[281,-91],[286,-96],[279,-98],[275,-102],[286,-107],[286,-111],[275,-114],[283,-121],
[328,-88],[328,-97],[328,-102],[328,-111],[328,-114],
[274,-137],[281,-137],[286,-137],[278,-143],[286,-144],[272,-153],[278,-157],[296,-152],[294,-159],
[352,-134],[358,-140],[357,-149],[357,-153],[365,-169],
[253,-170],[270,-172],[285,-170],[295,-172],[300,-172],[305,-172],[318,-174],[275,-175],[278,-178],[285,-178],[291,-177],[300,-179],[310,-178],[318,-179],[325,-178],[335,-178],[345,-175],[340,-178],[352,-178],[360,-177],[370,-178],[372,-174],[380,-175],[390,-173],[398,-177],[410,-179],[384,-178],[395,-180],[378,-180],[362,-180],[405,-178],[415,-178],[366,-176],[376,-177],[388,-177],[393,-178],
[233,176],[240,176],[254,175],[262,175],[268,177],[274,180],[282,178],[288,177],[296,177],[304,179],[312,179],[320,178],[328,178],[336,180],[344,177],[352,178],[360,180],[368,180],[376,180],[384,180],[392,180],[400,178],[408,175],
[345,173],[353,173],[361,173],[369,174],[377,174],[385,174],[393,174],[401,174],[370,170],[378,170],[386,170],[394,170],[380,166],[388,166],
[340,175],[348,176],[356,176],[364,177],[372,177],[380,177],[388,177],[396,177],[404,177],[358,171],[366,171],[374,168],[382,168],[390,168]
];

const allSeries = [seriesA, seriesB, seriesC, seriesD, seriesE];
const svgNS = "http://www.w3.org/2000/svg";

function xScale(v) { return 508 + 1.32 * v; }
function yScale(v) { return 472 - 1.955 * v; }

const gridLayer = document.getElementById("grid");
const marksLayer = document.getElementById("marks");
const axesLayer = document.getElementById("axes");

function makeLine(x1, y1, x2, y2, stroke, width) {
  const l = document.createElementNS(svgNS, "line");
  l.setAttribute("x1", x1);
  l.setAttribute("y1", y1);
  l.setAttribute("x2", x2);
  l.setAttribute("y2", y2);
  l.setAttribute("stroke", stroke);
  l.setAttribute("stroke-width", width);
  return l;
}

xMinorBreaks.forEach(function (v) {
  const l = makeLine(xScale(v), 84, xScale(v), 857, "#f2f2f2", 1);
  
  
  gridLayer.appendChild(l);
});
yMinorBreaks.forEach(function (v) {
  const l = makeLine(132, yScale(v), 1150, yScale(v), "#f2f2f2", 1);
  
  
  gridLayer.appendChild(l);
});
xTickLabels.forEach(function (v) {
  const l = makeLine(xScale(v), 84, xScale(v), 857, "#ffffff", 2.2);
  
  
  gridLayer.appendChild(l);
  const t = makeLine(xScale(v), 857, xScale(v), 863, "#7f7f7f", 2);
  
  
  axesLayer.appendChild(t);
  const s = document.createElementNS(svgNS, "text");
  s.setAttribute("x", xScale(v));
  s.setAttribute("y", 898);
  s.setAttribute("font-size", 25);
  s.setAttribute("text-anchor", "middle");
  s.setAttribute("fill", "#7f7f7f");
  
  
  s.textContent = String(v);
  axesLayer.appendChild(s);
});
yTickLabels.forEach(function (v) {
  const l = makeLine(132, yScale(v), 1150, yScale(v), "#ffffff", 2.2);
  
  
  gridLayer.appendChild(l);
  const t = makeLine(126, yScale(v), 132, yScale(v), "#7f7f7f", 2);
  
  
  axesLayer.appendChild(t);
  const s = document.createElementNS(svgNS, "text");
  s.setAttribute("x", 114);
  s.setAttribute("y", yScale(v) + 9);
  s.setAttribute("font-size", 25);
  s.setAttribute("text-anchor", "end");
  s.setAttribute("fill", "#7f7f7f");
  
  
  s.textContent = String(v);
  axesLayer.appendChild(s);
});

allSeries.forEach(function (series, i) {
  const g = document.createElementNS(svgNS, "g");
  g.setAttribute("fill", classColors[i]);
  
  
  series.forEach(function (p) {
    const c = document.createElementNS(svgNS, "circle");
    c.setAttribute("cx", xScale(p[0]));
    c.setAttribute("cy", yScale(p[1]));
    c.setAttribute("r", 6.2);
    
    
    g.appendChild(c);
  });
  marksLayer.appendChild(g);
});
</script>
</body>
</html>
